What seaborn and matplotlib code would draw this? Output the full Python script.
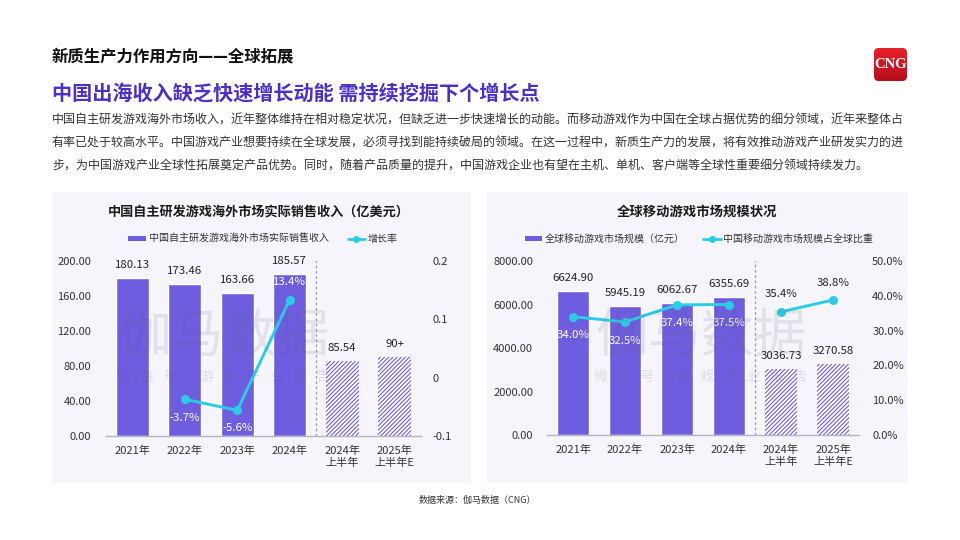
"""Recreates the two-panel CNG slide on overseas and mobile game revenue."""
import numpy as np
import pandas as pd
import seaborn as sns
import matplotlib.pyplot as plt
from matplotlib.lines import Line2D
from matplotlib.patches import FancyBboxPatch, Patch, Rectangle

W, H = 960, 540
BAR_COLOR = '#6f5de0'
LINE_COLOR = '#2bcde6'
TEXT_COLOR = '#333333'
PANEL_BG = '#f6f5fc'
HEAD_COLOR = '#4a2fc9'

categories = ['2021年', '2022年', '2023年', '2024年', '2024年\n上半年', '2025年\n上半年E']

overseas_revenue = [180.13, 173.46, 163.66, 185.57, 85.54, 90]
overseas_labels = ['180.13', '173.46', '163.66', '185.57', '85.54', '90+']
overseas_growth = [None, -0.037, -0.056, 0.134, None, None]
overseas_growth_labels = [None, '-3.7%', '-5.6%', '13.4%', None, None]
overseas_growth_offset = [0, -19, -18, 18, 0, 0]
overseas_left_ticks = [0, 40, 80, 120, 160, 200]
overseas_right_ticks = [-0.1, 0, 0.1, 0.2]
overseas_right_labels = ['-0.1', '0', '0.1', '0.2']

mobile_market = [6624.90, 5945.19, 6062.67, 6355.69, 3036.73, 3270.58]
mobile_share = [34.0, 32.5, 37.4, 37.5, 35.4, 38.8]
mobile_share_offset = [-18, -19, -18, -18, 18, 17]
mobile_left_ticks = [0, 2000, 4000, 6000, 8000]
mobile_right_ticks = [0, 10, 20, 30, 40, 50]

body_lines = [
    '中国自主研发游戏海外市场收入，近年整体维持在相对稳定状况，但缺乏进一步快速增长的动能。而移动游戏作为中国在全球占据优势的细分领域，近年来整体占',
    '有率已处于较高水平。中国游戏产业想要持续在全球发展，必须寻找到能持续破局的领域。在这一过程中，新质生产力的发展，将有效推动游戏产业研发实力的进',
    '步，为中国游戏产业全球性拓展奠定产品优势。同时，随着产品质量的提升，中国游戏企业也有望在主机、单机、客户端等全球性重要细分领域持续发力。',
]

sns.set_theme(style='white')
plt.rcParams['font.family'] = ['Noto Sans CJK SC', 'DejaVu Sans']
plt.rcParams['hatch.linewidth'] = 0.8

fig = plt.figure(figsize=(W / 100, H / 100), dpi=100, facecolor='white')


def px_text(x, y, s, **kw):
    kw.setdefault('va', 'center')
    return fig.text(x / W, 1 - y / H, s, **kw)


def px_axes(x0, y0, x1, y1):
    return fig.add_axes([x0 / W, 1 - y1 / H, (x1 - x0) / W, (y1 - y0) / H])


def draw_panel(box, plot_box, values, labels, rates, rate_labels, rate_offsets, rate_colors,
               left_ticks, left_pad, right_lim, right_ticks, right_labels, right_pad,
               sep_top, sep_x):
    """One chart: bars on the left axis, rate line on the right axis."""
    fig.add_artist(Rectangle((box[0] / W, 1 - box[3] / H), (box[2] - box[0]) / W,
                             (box[3] - box[1]) / H, transform=fig.transFigure,
                             facecolor=PANEL_BG, edgecolor='none', zorder=-5))
    ax = px_axes(*plot_box)
    ax.patch.set_alpha(0)
    df = pd.DataFrame({'cat': categories, 'value': values})
    sns.barplot(data=df, x='cat', y='value', color=BAR_COLOR, saturation=1,
                width=0.63, ax=ax, zorder=2)
    for i, bar in enumerate(ax.patches):
        if i >= 4:
            bar.set_facecolor('white')
            bar.set_edgecolor(BAR_COLOR)
            bar.set_hatch('/' * 8)
            bar.set_linewidth(0)
        ax.annotate(labels[i], (i, values[i]), xytext=(0, 9.4), textcoords='offset points',
                    ha='center', va='center', fontsize=8.2, color='#222222', zorder=5)
    ax.set_xlim(-0.5, 5.5)
    ax.set_ylim(left_ticks[0], left_ticks[-1])
    ax.set_yticks(left_ticks, [f'{t:.2f}' for t in left_ticks])
    ax.set_xlabel('')
    ax.set_ylabel('')
    ax.tick_params(axis='x', length=0, labelsize=8, labelcolor=TEXT_COLOR, pad=7)
    ax.tick_params(axis='y', length=0, labelsize=8, labelcolor=TEXT_COLOR, pad=left_pad)
    for lab in ax.get_xticklabels():
        lab.set_linespacing(1.15)
    for name in ['top', 'left', 'right']:
        ax.spines[name].set_visible(False)
    ax.spines['bottom'].set_color('#b4b4c4')
    ax.spines['bottom'].set_linewidth(1)

    ax2 = ax.twinx()
    ax2.patch.set_alpha(0)
    ax2.grid(False)
    rate_s = pd.Series(rates, dtype=float)
    # the line breaks between full years and half years
    for part in [range(0, 4), range(4, 6)]:
        seg = rate_s.iloc[list(part)].dropna()
        if len(seg):
            sns.lineplot(x=seg.index.to_numpy(), y=seg.to_numpy(), color=LINE_COLOR, linewidth=2.1,
                         marker='o', markersize=6.5, markeredgewidth=0, ax=ax2, zorder=4,
                         legend=False)
    for i, r in enumerate(rates):
        if r is not None:
            ax2.annotate(rate_labels[i], (i, r), xytext=(0, rate_offsets[i] * 0.72),
                         textcoords='offset points', ha='center', va='center', fontsize=8.2,
                         color=rate_colors[i], zorder=6)
    ax2.set_ylim(*right_lim)
    ax2.set_yticks(right_ticks, right_labels)
    ax2.set_ylabel('')
    ax2.tick_params(axis='y', length=0, labelsize=8, labelcolor=TEXT_COLOR, pad=right_pad)
    for spine in ax2.spines.values():
        spine.set_visible(False)

    sep = (sep_x - plot_box[0]) / (plot_box[2] - plot_box[0]) * 6 - 0.5
    top = (plot_box[3] - sep_top) / (plot_box[3] - plot_box[1])
    ax2.plot([sep, sep], [0, top], transform=ax2.get_xaxis_transform(), color='#9a9aa8',
             linewidth=0.9, linestyle=(0, (2.2, 2)), zorder=1)
    return ax


# header
px_text(52, 56, '新质生产力作用方向——全球拓展', fontsize=11.8, fontweight='bold', color='#111111')
px_text(52, 93, '中国出海收入缺乏快速增长动能 需持续挖掘下个增长点', fontsize=14.5,
        fontweight='bold', color=HEAD_COLOR)
for y, line in zip([120, 143, 166], body_lines):
    px_text(52, y, line, fontsize=8.66, color=TEXT_COLOR)

# logo
logo = px_axes(874, 48, 907, 81)
grad = np.linspace(0, 1, 64).reshape(-1, 1)
im = logo.imshow(grad, cmap=sns.blend_palette(['#e8202a', '#b50f1c'], as_cmap=True),
                 aspect='auto', extent=(0, 1, 0, 1))
clip = FancyBboxPatch((0.08, 0.08), 0.84, 0.84, boxstyle='round,pad=0.08,rounding_size=0.14',
                      transform=logo.transData, facecolor='none', edgecolor='none')
logo.add_patch(clip)
im.set_clip_path(clip)
logo.axis('off')
px_text(890.5, 65, 'CNG', fontsize=10.5, fontweight='bold', color='white', ha='center',
        family='Liberation Serif', zorder=12)

# left panel
ax_left = draw_panel((52, 192, 471, 483), (106, 261, 421, 436), overseas_revenue, overseas_labels,
                     overseas_growth, overseas_growth_labels, overseas_growth_offset,
                     ['white'] * 6, overseas_left_ticks, 10.5, (-0.1, 0.2),
                     overseas_right_ticks, overseas_right_labels, 8, 256, 316)
px_text(258.5, 212, '中国自主研发游戏海外市场实际销售收入（亿美元）', fontsize=9.45, fontweight='bold',
        color='#1a1a1a', ha='center')

# right panel
ax_right = draw_panel((487, 192, 907, 483), (547, 261, 859, 435), mobile_market,
                      [f'{v:.2f}' for v in mobile_market], mobile_share,
                      [f'{v:.1f}%' for v in mobile_share], mobile_share_offset,
                      ['white'] * 4 + ['#222222'] * 2, mobile_left_ticks, 10, (0, 50),
                      mobile_right_ticks, [f'{t:.1f}%' for t in mobile_right_ticks], 9.5, 256, 755)
px_text(697, 212, '全球移动游戏市场规模状况', fontsize=9.6, fontweight='bold', color='#1a1a1a',
        ha='center')


def draw_legend(center_x, bar_name, line_name, gap):
    handles = [Patch(facecolor=BAR_COLOR, edgecolor='none'),
               Line2D([], [], color=LINE_COLOR, linewidth=2, marker='o', markersize=5,
                      markeredgewidth=0)]
    fig.legend(handles, [bar_name, line_name], loc='center',
               bbox_to_anchor=(center_x / W, 1 - 239 / H), ncol=2, frameon=False, fontsize=7.2,
               labelcolor=TEXT_COLOR, handlelength=1.75, handleheight=0.5, handletextpad=0.3,
               columnspacing=gap, borderpad=0)


draw_legend(263, '中国自主研发游戏海外市场实际销售收入', '增长率', 1.9)
draw_legend(699, '全球移动游戏市场规模（亿元）', '中国移动游戏市场规模占全球比重', 1.8)

# watermarks
for cx in [224, 701]:
    px_text(cx, 336, '伽马数据', fontsize=38, color='#555560', alpha=0.12, ha='center', zorder=10)
    px_text(cx, 376, '微   信   号   :   游   戏   产   业   报   告', fontsize=10, color='#555560',
            alpha=0.15, ha='center', zorder=10)

px_text(477, 500, '数据来源：伽马数据（CNG）', fontsize=6.5, color='#333333', ha='center')

fig.savefig('out.png', dpi=100, facecolor='white')
plt.close(fig)
